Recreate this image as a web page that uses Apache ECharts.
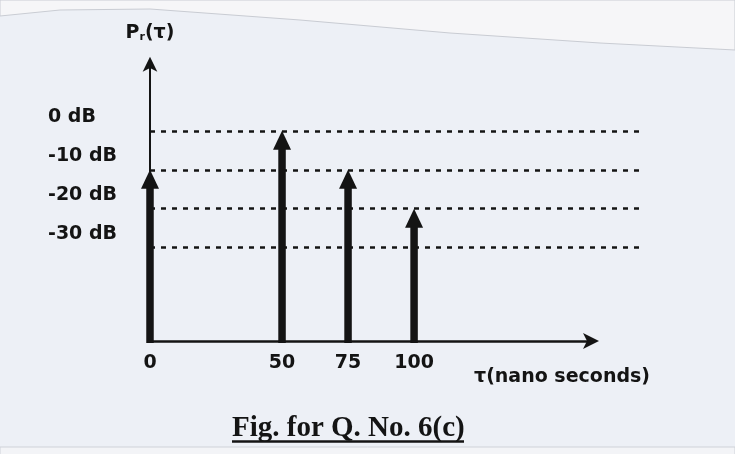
<!DOCTYPE html>
<html>
<head>
<meta charset="utf-8">
<script src="https://cdn.jsdelivr.net/npm/echarts@6/dist/echarts.min.js"></script>
<style>
  html, body { margin: 0; padding: 0; background: #edf0f6; }
  #chart { width: 735px; height: 454px; }
</style>
</head>
<body>
<div id="chart"></div>
<script>
// delay taps (ns) and received power (dB)
const tauValues = [0, 50, 75, 100]
const powerDb = [-10, 0, -10, -20]
// reference lines / tick labels
const dbLevels = [0, -10, -20, -30]
const tauTicks = [0, 50, 75, 100]

const Y_MIN = -54
const Y_MAX = 17
const X_MAX = 167

const ink = '#141414'
const labelFont = {
  fontFamily: 'DejaVu Sans',
  fontWeight: 'bold',
  fontSize: 19,
  color: ink
}

function renderSpike(params, api) {
  const base = api.coord([api.value(0), Y_MIN])
  const tip = api.coord([api.value(0), api.value(1)])
  const stemW = 7.5
  const headW = 18
  const headH = 19
  return {
    type: 'group',
    children: [
      {
        type: 'rect',
        shape: { x: tip[0] - stemW / 2, y: tip[1] + headH - 1, width: stemW, height: base[1] - tip[1] - headH + 3 },
        style: { fill: ink }
      },
      {
        type: 'polygon',
        shape: { points: [[tip[0], tip[1]], [tip[0] - headW / 2, tip[1] + headH], [tip[0] + headW / 2, tip[1] + headH]] },
        style: { fill: ink }
      }
    ]
  }
}

const chart = echarts.init(document.getElementById('chart'))
chart.setOption({
  backgroundColor: '#edf0f6',
  animation: false,
  graphic: [
    {
      type: 'polygon',
      silent: true,
      z: -10,
      shape: { points: [[0, 0], [735, 0], [735, 50], [600, 43], [450, 33], [300, 20], [150, 9], [60, 10], [0, 16]] },
      style: { fill: '#f6f6f8', stroke: '#c9ccd3', lineWidth: 1 }
    },
    {
      type: 'rect',
      silent: true,
      z: -10,
      shape: { x: 0, y: 447, width: 735, height: 8 },
      style: { fill: '#f3f4f7', stroke: '#cfd2d9', lineWidth: 1 }
    },
    {
      type: 'text',
      left: 232,
      top: 414.5,
      style: {
        text: 'Fig. for Q. No. 6(c)',
        fontFamily: 'Liberation Serif',
        fontWeight: 'bold',
        fontSize: 29,
        fill: ink
      }
    },
    {
      type: 'line',
      shape: { x1: 232, y1: 441.5, x2: 464, y2: 441.5 },
      style: { stroke: ink, lineWidth: 2.5 }
    }
  ],
  grid: [
    { left: 150, right: 91, top: 64.7, bottom: 113, outerBoundsMode: 'none' },
    { left: 150, right: 144, top: 64.7, bottom: 113, outerBoundsMode: 'none' }
  ],
  xAxis: [
    { type: 'value', gridIndex: 0, min: 0, max: 1, show: false },
    {
      type: 'value',
      gridIndex: 1,
      min: 0,
      max: X_MAX,
      axisLine: {
        show: true,
        onZero: false,
        symbol: ['none', 'arrow'],
        symbolSize: [12, 16],
        symbolOffset: [0, 8],
        lineStyle: { color: ink, width: 2.5 }
      },
      axisTick: { show: false },
      splitLine: { show: false },
      axisLabel: Object.assign({ customValues: tauTicks, margin: 13 }, labelFont),
      name: 'τ(nano seconds)',
      nameLocation: 'end',
      nameGap: 59,
      nameTextStyle: Object.assign({ align: 'right', verticalAlign: 'top', padding: [27, 0, 0, 0] }, labelFont)
    }
  ],
  yAxis: [
    {
      type: 'value',
      gridIndex: 0,
      min: Y_MIN,
      max: Y_MAX,
      axisLine: {
        show: true,
        onZero: false,
        symbol: ['none', 'arrow'],
        symbolSize: [11, 15],
        symbolOffset: [0, 8],
        lineStyle: { color: ink, width: 2 }
      },
      axisTick: { show: false },
      splitLine: { show: false },
      axisLabel: Object.assign({
        customValues: dbLevels,
        formatter: v => v + ' dB',
        align: 'left',
        margin: 102,
        verticalAlign: 'bottom',
        padding: [0, 0, 4, 0]
      }, labelFont),
      name: '{p|P}{s|r}{p|(τ)}',
      nameLocation: 'end',
      nameGap: 22,
      nameTextStyle: {
        rich: {
          p: { fontFamily: 'DejaVu Sans', fontWeight: 'bold', fontSize: 19, color: ink },
          s: { fontFamily: 'DejaVu Sans', fontWeight: 'bold', fontSize: 11, color: ink, verticalAlign: 'bottom', padding: [8, 0, 0, 0] }
        }
      }
    },
    { type: 'value', gridIndex: 1, min: Y_MIN, max: Y_MAX, show: false }
  ],
  series: [
    {
      // dashed reference levels
      type: 'line',
      xAxisIndex: 0,
      yAxisIndex: 0,
      data: [],
      markLine: {
        silent: true,
        symbol: 'none',
        label: { show: false },
        lineStyle: { color: ink, type: [5, 6], width: 2.5 },
        data: dbLevels.map(v => ({ yAxis: v }))
      }
    },
    {
      type: 'custom',
      xAxisIndex: 1,
      yAxisIndex: 1,
      renderItem: renderSpike,
      data: tauValues.map((t, i) => [t, powerDb[i]]),
      z: 5
    }
  ]
})
</script>
</body>
</html>
